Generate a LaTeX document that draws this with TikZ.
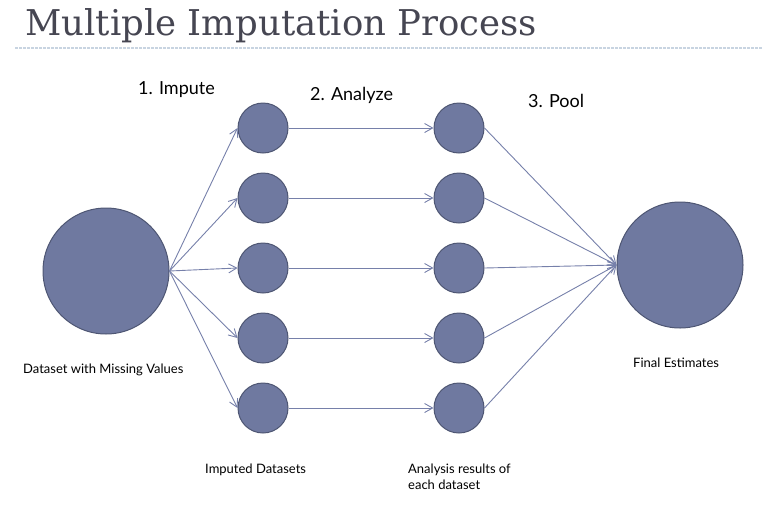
\documentclass[tikz,border=0pt]{standalone}
\usepackage{fontspec}
\setmainfont{Lato}
\newfontfamily\titlefont{DejaVu Serif}
\usetikzlibrary{arrows.meta}
\definecolor{dotfill}{RGB}{111,121,160}
\definecolor{dotline}{RGB}{78,86,115}
\definecolor{linkcol}{RGB}{118,128,170}
\definecolor{titlecol}{RGB}{70,70,82}
\definecolor{rulecol}{RGB}{200,212,225}
\tikzset{
  >={Straight Barb[length=8pt,width=9pt]},
  blob/.style = {
    circle, fill=dotfill, draw=dotline,
    line width=1pt, inner sep=0pt, minimum size=#1
  },
  link/.style = {->, draw=linkcol, line width=0.9pt},
  phase/.style = {anchor=base west, inner sep=0pt, font=\fontsize{18}{22}\selectfont},
  caption/.style = {anchor=base west, inner sep=0pt, align=left, font=\fontsize{13}{16}\selectfont}
}
\begin{document}
\begin{tikzpicture}[x=1pt,y=-1pt]
  \useasboundingbox (0,0) rectangle (763,517);
  \node[anchor=base west, inner sep=0pt, text=titlecol,
        font=\titlefont\fontsize{35.5}{42}\selectfont] (title) at (25,35) {Multiple Imputation Process};
  \draw[rulecol, line width=2pt, dash pattern=on 2.5pt off 1.5pt] (15,48) -- (763,48);
  \node[blob=126pt] (miss) at (106,271) {};
  \node[blob=126pt] (final) at (680,265) {};
  \foreach \i/\y in {1/128,2/198,3/268,4/338,5/408} {
    \node[blob=50pt] (imp\i) at (263,\y) {};
    \node[blob=50pt] (res\i) at (459,\y) {};
    \draw[link] (miss.east) -- (imp\i.west);
    \draw[link] (imp\i) -- (res\i);
    \draw[link] (res\i.east) -- (final.west);
  }
  \node[phase] (impute) at (138,94) {1. Impute};
  \node[phase] (analyze) at (310,100) {2. Analyze};
  \node[phase] (pool) at (528,107) {3. Pool};
  \node[caption] (misslabel) at (23,373) {Dataset with Missing Values};
  \node[caption] (finallabel) at (633,367) {Final Estimates};
  \node[caption] (implabel) at (205,473) {Imputed Datasets};
  % base of a two-line node sits on its last line
  \node[caption] (reslabel) at (408,489) {Analysis results of\\each dataset};
\end{tikzpicture}
\end{document}
